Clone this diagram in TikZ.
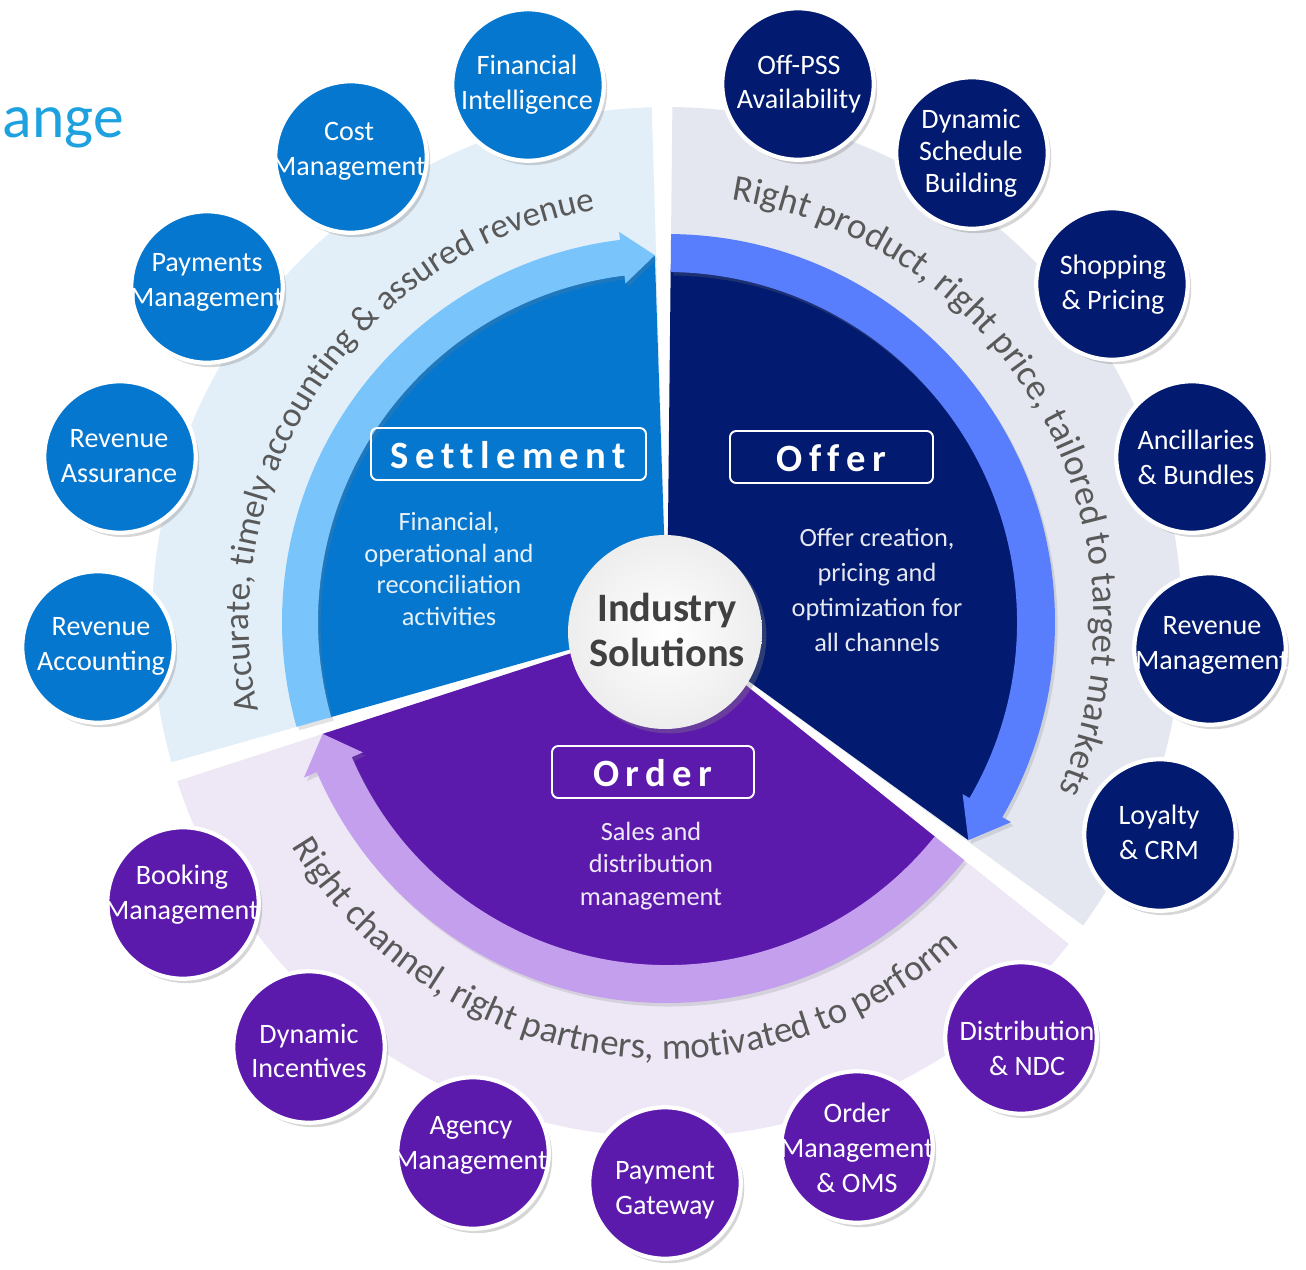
\documentclass[tikz,border=0pt]{standalone}
\usepackage{fontspec}
\setmainfont{Carlito}
\usetikzlibrary{decorations.text,shadows}
\definecolor{colS}{HTML}{0677CE}
\definecolor{colSring}{HTML}{78C4FB}
\definecolor{colSband}{HTML}{E2EFF9}
\definecolor{colO}{HTML}{021A6F}
\definecolor{colOring}{HTML}{587EFD}
\definecolor{colOband}{HTML}{E4E7F0}
\definecolor{colR}{HTML}{5C1AAD}
\definecolor{colRring}{HTML}{C39FEE}
\definecolor{colRband}{HTML}{EEE8F6}
\definecolor{txtgray}{HTML}{595959}
\definecolor{ttlblue}{HTML}{1DA1DF}
\definecolor{darktxt}{HTML}{404040}

\newcommand\spaceout[1]{\spaceoutA#1\relax}
\def\spaceoutA#1#2{#1\ifx#2\relax\else\kern3.6pt\expandafter\spaceoutA\expandafter#2\fi}

\tikzset{
 sat/.style={circle, minimum size=3.03cm, inner sep=0pt, draw=white, line width=2.4pt, fill=#1,
   drop shadow={opacity=0.32, shadow xshift=2pt, shadow yshift=-2.5pt}},
 sattext/.style={align=center, text=white, inner sep=0pt, font=\fontsize{16}{19.8}\selectfont},
 titlebox/.style={draw=white, line width=1.1pt, rounded corners=3.5pt, inner sep=0pt, minimum height=1.04cm},
 titletext/.style={text=white, font=\fontsize{22}{26}\selectfont\bfseries, inner sep=0pt},
 desc/.style={align=center, inner sep=0pt, font=\fontsize{15}{#1}\selectfont},
 ringshadow/.style={drop shadow={opacity=0.22, shadow xshift=1.5pt, shadow yshift=-2pt}},
}

\begin{document}
\begin{tikzpicture}[x=0.02cm, y=0.02cm]
\useasboundingbox (0,0) rectangle (1306,-1269);
\fill[white] (0,0) rectangle (1306,-1269);
\node[anchor=base east, inner sep=0pt, text=ttlblue, font=\fontsize{35}{40}\selectfont] (ttl) at (124,-137) {hange};

\begin{scope}[shift={(667,-622)}]
 % outer bands
 \fill[colSband] (0,0) -- (91.7:515) arc[start angle=91.7, end angle=195.8, radius=515] -- cycle;
 \fill[colOband] (0,0) -- (-36.1:515) arc[start angle=-36.1, end angle=89.4, radius=515] -- cycle;
 \fill[colRband] (0,0) -- (198:515) arc[start angle=198, end angle=321.3, radius=515] -- cycle;

 % curved texts
 \path[decorate, decoration={text along path, text align=center,
   text={|\fontsize{20}{24}\selectfont\color{txtgray}|Accurate, timely accounting {\&} assured revenue}}]
   (200:418) arc[start angle=200, end angle=92, radius=418];
 \path[decorate, decoration={text along path, text align=center,
   text={|\fontsize{21}{25}\selectfont\color{txtgray}|Right product, right price, tailored to target markets}}]
   (98:427) arc[start angle=98, end angle=-40, radius=427];
 \path[decorate, decoration={text along path, text align=center,
   text={|\fontsize{21}{25}\selectfont\color{txtgray}|Right channel, right partners, motivated to perform}}]
   (198:437) arc[start angle=198, end angle=325, radius=437];

 % pie fills
 \fill[colS] (0,0) -- (195.8:351) arc[start angle=195.8, end angle=97, radius=351] -- (91.9:367) -- cycle;
 \fill[colO] (0,0) -- (89.4:352) arc[start angle=89.4, end angle=-30.2, radius=352] -- (-35.9:372) -- cycle;
 \fill[colR] (0,0) -- (321.3:345) arc[start angle=321.3, end angle=203.2, radius=345] -- (198:362) -- cycle;

 % ring arrows
 \fill[colSring, ringshadow] (195.8:385) arc[start angle=195.8, end angle=97, radius=385]
   -- (97:393) -- (91.9:367) -- (97:341) -- (97:349) arc[start angle=97, end angle=195.8, radius=349] -- cycle;
 \fill[colOring, ringshadow] (89.4:388) arc[start angle=89.4, end angle=-30.2, radius=388]
   -- (-30.2:398) -- (-35.9:372) -- (-30.2:342) -- (-30.2:350) arc[start angle=-30.2, end angle=89.4, radius=350] -- cycle;
 \fill[colRring, ringshadow] (321.3:381) arc[start angle=321.3, end angle=203.2, radius=381]
   -- (203.2:395) -- (198:362) -- (203.2:331) -- (203.2:343) arc[start angle=203.2, end angle=321.3, radius=343] -- cycle;
\end{scope}

% center
\node[circle, minimum size=3.88cm, inner sep=0pt, shading=radial, inner color=white, outer color=black!7,
  drop shadow={opacity=0.35, shadow xshift=2.5pt, shadow yshift=-2.5pt}] (ind) at (665,-632) {};
\node[align=center, inner sep=0pt, text=darktxt, font=\fontsize{23}{26}\selectfont\bfseries] (indt) at (667,-630) {Industry\\Solutions};

% title boxes
\node[titlebox, minimum width=5.5cm] (sbox) at (508.5,-454) {};
\node[titletext] (stitle) at (508.5,-455) {\spaceout{Settlement}};
\node[titlebox, minimum width=4.06cm] (obox) at (831.5,-457) {};
\node[titletext] (otitle) at (831.5,-458) {\spaceout{Offer}};
\node[titlebox, minimum width=4.04cm] (rbox) at (653,-772) {};
\node[titletext] (rtitle) at (653,-773) {\spaceout{Order}};

% descriptions
\node[desc=18.1, text=white!90!colS] (sdesc) at (449,-569) {Financial,\\operational and\\reconciliation\\activities};
\node[desc=19.8, text=white!90!colO] (odesc) at (877,-590) {Offer creation,\\pricing and\\optimization for\\all channels};
\node[desc=18.4, text=white!90!colR] (rdesc) at (651,-866) {Sales and\\distribution\\management};

% settlement satellites
\node[sat=colS] (c1) at (528,-85) {};
\node[sattext] (t1) at (527,-85) {Financial\\Intelligence};
\node[sat=colS] (c2) at (351,-157) {};
\node[sattext] (t2) at (349,-151) {Cost\\Management};
\node[sat=colS] (c3) at (207,-287) {};
\node[sattext] (t3) at (207,-282) {Payments\\Management};
\node[sat=colS] (c4) at (120,-457) {};
\node[sattext] (t4) at (119,-456) {Revenue\\Assurance};
\node[sat=colS] (c5) at (98,-647) {};
\node[sattext] (t5) at (101,-646) {Revenue\\Accounting};

% offer satellites
\node[sat=colO] (c6) at (798,-84) {};
\node[sattext] (t6) at (799,-84) {Off-PSS\\Availability};
\node[sat=colO] (c7) at (972,-153) {};
\node[sattext, font=\fontsize{16}{18.2}\selectfont] (t7) at (971,-153) {Dynamic\\Schedule\\Building};
\node[sat=colO] (c8) at (1112,-284) {};
\node[sattext] (t8) at (1113,-285) {Shopping\\\& Pricing};
\node[sat=colO] (c9) at (1192,-457) {};
\node[sattext] (t9) at (1196,-457) {Ancillaries\\\& Bundles};
\node[sat=colO] (c10) at (1210,-649) {};
\node[sattext] (t10) at (1212,-645) {Revenue\\Management};
\node[sat=colO] (c11) at (1160,-835) {};
\node[sattext] (t11) at (1159,-832) {Loyalty\\\& CRM};

% order satellites
\node[sat=colR] (c12) at (183,-903) {};
\node[sattext] (t12) at (182,-895) {Booking\\Management};
\node[sat=colR] (c13) at (309,-1047) {};
\node[sattext] (t13) at (309,-1051) {Dynamic\\Incentives};
\node[sat=colR] (c14) at (473,-1153) {};
\node[sattext] (t14) at (471,-1145) {Agency\\Management};
\node[sat=colR] (c15) at (665,-1183) {};
\node[sattext] (t15) at (665,-1190) {Payment\\Gateway};
\node[sat=colR] (c16) at (857,-1147) {};
\node[sattext] (t16) at (857,-1148) {Order\\Management\\\& OMS};
\node[sat=colR] (c17) at (1021,-1038) {};
\node[sattext] (t17) at (1027,-1048) {Distribution\\\& NDC};
\end{tikzpicture}
\end{document}
